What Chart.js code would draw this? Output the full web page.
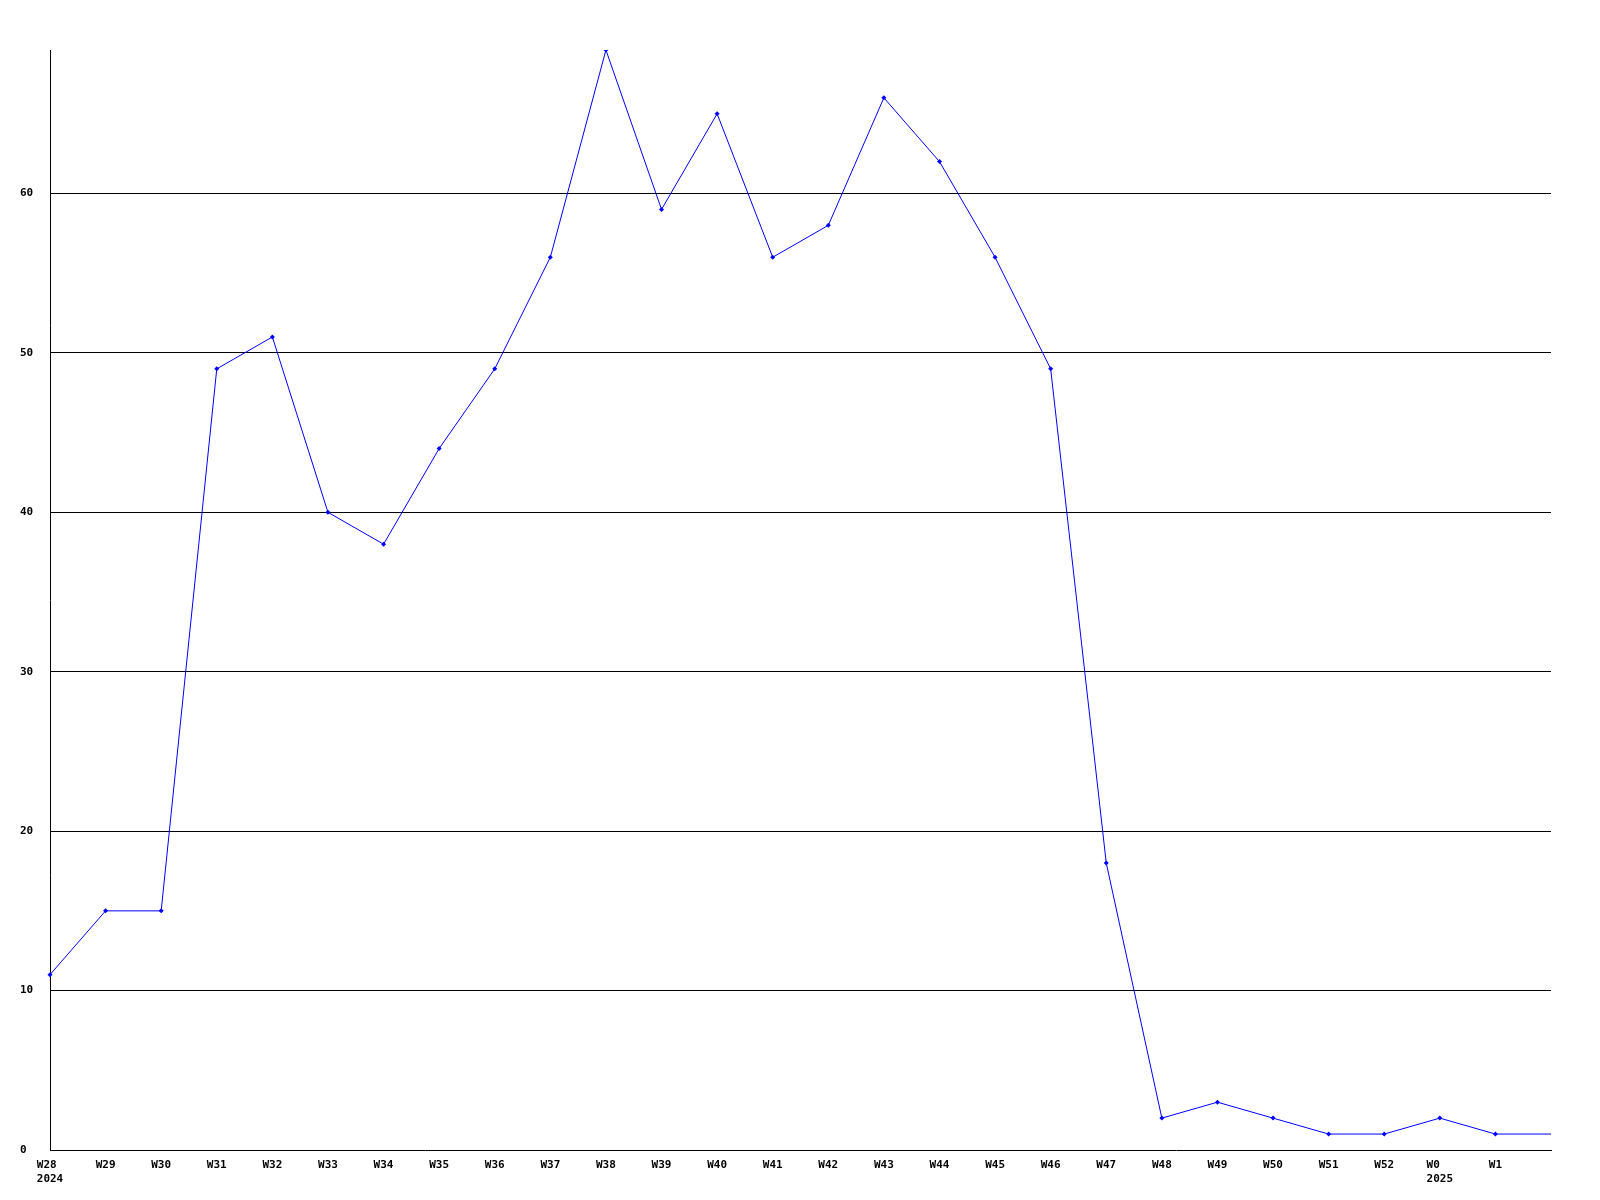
<!DOCTYPE html>
<html>
<head>
<meta charset="utf-8">
<script src="https://cdn.jsdelivr.net/npm/chart.js@4/dist/chart.umd.min.js"></script>
<style>
  html, body { margin: 0; padding: 0; background: #fff; }
  canvas { display: block; }
</style>
</head>
<body>
<canvas id="chart" width="1600" height="1200"></canvas>
<script>
// week labels (year shown under the first week of each year)
const weeks = [
  ['W28 ', '2024'], 'W29', 'W30', 'W31', 'W32', 'W33', 'W34', 'W35', 'W36', 'W37',
  'W38', 'W39', 'W40', 'W41', 'W42', 'W43', 'W44', 'W45', 'W46', 'W47',
  'W48', 'W49', 'W50', 'W51', 'W52', ['W0  ', '2025'], 'W1', ''
];
const counts = [
  11, 15, 15, 49, 51, 40, 38, 44, 49, 56,
  69, 59, 65, 56, 58, 66, 62, 56, 49, 18,
  2, 3, 2, 1, 1, 2, 1, 1
];
const yTicks = [0, 10, 20, 30, 40, 50, 60];

const tickFont = { family: 'DejaVu Sans Mono', size: 11, weight: 'bold', lineHeight: 1.3 };

// last point only carries the line to the right edge, no marker
const radii = counts.map((v, i) => i === counts.length - 1 ? 0 : 2.5);

new Chart(document.getElementById('chart').getContext('2d'), {
  type: 'line',
  data: {
    labels: weeks,
    datasets: [{
      data: counts,
      borderColor: '#0000ff',
      backgroundColor: '#0000ff',
      borderWidth: 1,
      tension: 0,
      pointStyle: 'rectRot',
      pointRadius: radii,
      pointBorderWidth: 0,
    }]
  },
  options: {
    responsive: false,
    animation: false,
    devicePixelRatio: 1,
    layout: { padding: { top: 50, right: 49, left: 20, bottom: 0 } },
    plugins: { legend: { display: false }, tooltip: { enabled: false } },
    scales: {
      x: {
        offset: false,
        grid: { display: false, drawTicks: false },
        border: { display: true, color: '#000', width: 1 },
        ticks: { color: '#000', font: tickFont, padding: 8, maxRotation: 0, autoSkip: false },
        afterFit: s => { s.height = 50; }
      },
      y: {
        min: 0,
        max: 69,
        grid: { color: ctx => ctx.tick && ctx.tick.value === 0 ? 'rgba(0,0,0,0)' : '#000', lineWidth: 1, drawTicks: false },
        border: { display: true, color: '#000', width: 1 },
        afterBuildTicks: s => { s.ticks = yTicks.map(v => ({ value: v })); },
        ticks: { color: '#000', font: tickFont, crossAlign: 'far', padding: 0 },
        afterFit: s => { s.width = 30; }
      }
    }
  }
});
</script>
</body>
</html>
